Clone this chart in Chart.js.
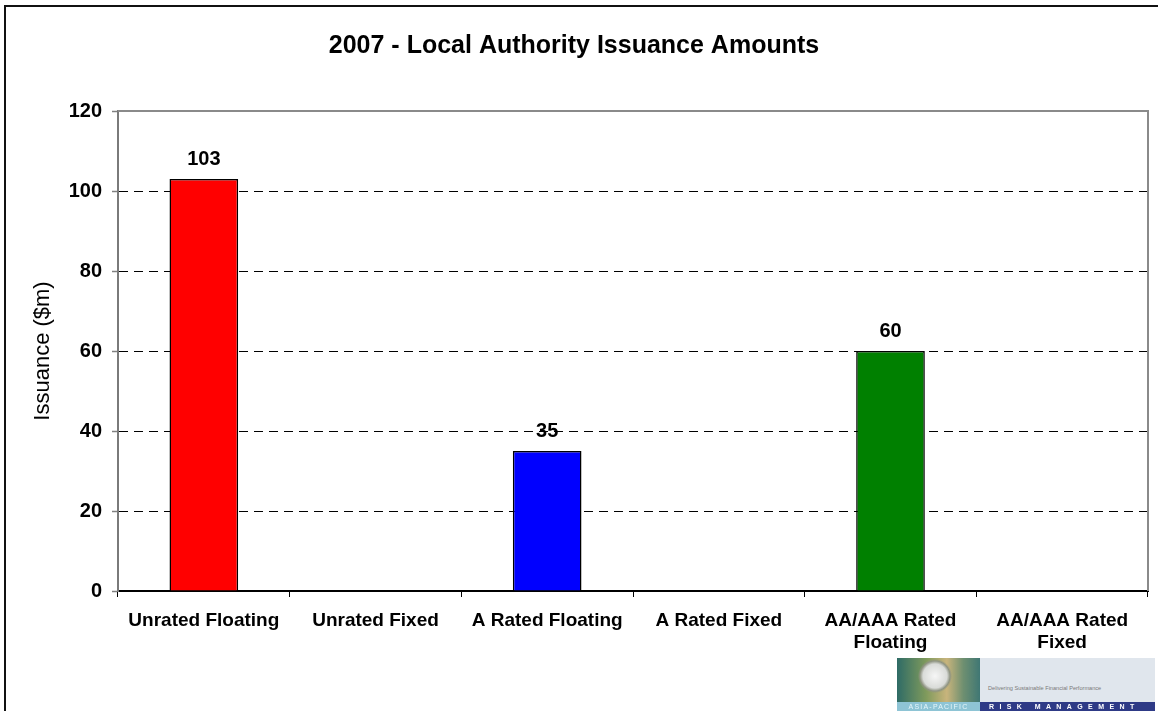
<!DOCTYPE html>
<html>
<head>
<meta charset="utf-8">
<script src="https://cdn.jsdelivr.net/npm/chart.js@4.4.0/dist/chart.umd.min.js"></script>
<style>
  html, body { margin: 0; padding: 0; background: #fff; }
  #wrap { position: relative; width: 1158px; height: 711px; overflow: hidden; }
  #chart { position: absolute; left: 0; top: 0; }
  .logo { position: absolute; left: 897px; top: 658px; width: 258px; height: 53px;
          font-family: "Liberation Sans", Arial, sans-serif; }
  .logo div { position: absolute; white-space: nowrap; overflow: hidden; }
  .photo { left: 0; top: 0; width: 83px; height: 44px;
           background:
             radial-gradient(circle at 38px 18px, #f6f6f6 0, #d9dbd8 12px, #8f9482 15px, rgba(0,0,0,0) 17px),
             linear-gradient(90deg, #2e6b66 0%, #7f9a5c 35%, #c8b47c 60%, #6e8f70 80%, #3f7774 100%); }
  .tag { left: 83px; top: 0; width: 175px; height: 44px; background: #e0e6ed;
         font-size: 5.6px; color: #7a7a7a; line-height: 6px; padding: 27px 0 0 8px; box-sizing: border-box; }
  .ap { left: 0; top: 44px; width: 83px; height: 9px; background: #8ec4d5;
        font-size: 7px; line-height: 9px; color: #e6f6fb; letter-spacing: 1.2px; text-align: center; }
  .rm { left: 83px; top: 44px; width: 175px; height: 9px; background: #2e3a86;
        font-size: 7px; font-weight: bold; line-height: 9px; color: #fff; letter-spacing: 5.4px; padding-left: 9px; box-sizing: border-box; }
</style>
</head>
<body>
<div id="wrap">
  <canvas id="chart" width="1158" height="711"></canvas>
  <div class="logo">
    <div class="photo"></div>
    <div class="tag">Delivering Sustainable Financial Performance</div>
    <div class="ap">ASIA-PACIFIC</div>
    <div class="rm">RISK MANAGEMENT</div>
  </div>
</div>
<script>
const chartTitle = "2007 - Local Authority Issuance Amounts";
const yAxisTitle = "Issuance ($m)";
const categories = [
  "Unrated Floating",
  "Unrated Fixed",
  "A Rated Floating",
  "A Rated Fixed",
  ["AA/AAA Rated", "Floating"],
  ["AA/AAA Rated", "Fixed"]
];
// empty categories have no bar in the picture
const issuance = [103, null, 35, null, 60, null];
const barColors = ["#ff0000", "#ff0000", "#0000ff", "#0000ff", "#008000", "#008000"];
const yMin = 0;
const yMax = 120;
const yStep = 20;

const FONT = "'Liberation Sans', Arial, sans-serif";

// value labels above each bar
const barLabels = {
  id: "barLabels",
  afterDatasetsDraw(chart) {
    const ctx = chart.ctx;
    const meta = chart.getDatasetMeta(0);
    ctx.save();
    ctx.font = "bold 20px " + FONT;
    ctx.fillStyle = "#000";
    ctx.textAlign = "center";
    ctx.textBaseline = "alphabetic";
    meta.data.forEach((bar, i) => {
      const v = issuance[i];
      if (v === null) return;
      ctx.fillText(String(v), bar.x, bar.y - 14);
    });
    ctx.restore();
  }
};

// plot area top/right edges and the outer frame
const frames = {
  id: "frames",
  afterDraw(chart) {
    const ctx = chart.ctx;
    const a = chart.chartArea;
    ctx.save();
    ctx.strokeStyle = "#8a8a8a";
    ctx.lineWidth = 2;
    ctx.beginPath();
    ctx.moveTo(a.left, a.top);
    ctx.lineTo(a.right, a.top);
    ctx.lineTo(a.right, a.bottom);
    ctx.stroke();

    ctx.strokeStyle = "#111";
    ctx.lineWidth = 2;
    ctx.beginPath();
    ctx.moveTo(1158, 6);
    ctx.lineTo(5, 6);
    ctx.lineTo(5, 711);
    ctx.stroke();
    ctx.restore();
  }
};

new Chart(document.getElementById("chart"), {
  type: "bar",
  data: {
    labels: categories,
    datasets: [
      {
        data: issuance,
        backgroundColor: barColors,
        borderColor: "#000",
        borderWidth: 1.5,
        barPercentage: 0.4,
        categoryPercentage: 1.0
      }
    ]
  },
  options: {
    responsive: false,
    animation: false,
    layout: { padding: { left: 0, right: 10, top: 0, bottom: 0 } },
    plugins: {
      legend: { display: false },
      tooltip: { enabled: false },
      title: {
        display: true,
        text: chartTitle,
        color: "#000",
        font: { family: FONT, size: 25, weight: "bold" },
        padding: { top: 31, bottom: 50 }
      }
    },
    scales: {
      x: {
        grid: {
          offset: true,
          drawOnChartArea: false,
          drawTicks: true,
          tickLength: 6,
          tickColor: "#000",
          tickWidth: 1
        },
        border: { color: "#000", width: 2 },
        ticks: {
          color: "#000",
          font: { family: FONT, size: 19, weight: "bold" },
          padding: 12,
          maxRotation: 0,
          autoSkip: false
        },
        afterFit(scale) { scale.height = 120; }
      },
      y: {
        min: yMin,
        max: yMax,
        ticks: {
          stepSize: yStep,
          color: "#000",
          font: { family: FONT, size: 20, weight: "bold" },
          padding: 10
        },
        grid: {
          color: ctx => (ctx.tick && (ctx.tick.value === yMin || ctx.tick.value === yMax)) ? "rgba(0,0,0,0)" : "#000",
          lineWidth: 1,
          tickLength: 6,
          tickColor: "#808080",
          tickWidth: 1.5
        },
        border: { color: "#7a7a7a", width: 2, dash: [9, 6] },
        title: {
          display: true,
          text: yAxisTitle,
          color: "#000",
          font: { family: FONT, size: 22 },
          padding: { top: 30, bottom: 0 }
        },
        afterFit(scale) { scale.width = 118; }
      }
    }
  },
  plugins: [barLabels, frames]
});
</script>
</body>
</html>
